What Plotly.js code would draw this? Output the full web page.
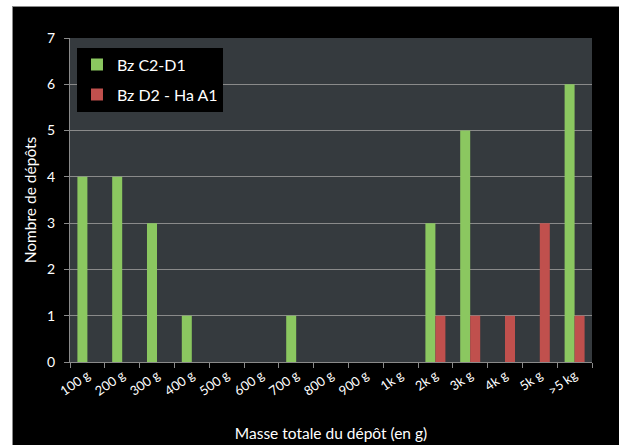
<!DOCTYPE html>
<html>
<head>
<meta charset="utf-8">
<script src="https://cdn.plot.ly/plotly-3.0.1.min.js"></script>
<style>
  html, body { margin: 0; padding: 0; background: #ffffff; width: 619px; height: 445px; overflow: hidden; }
  #chart { position: absolute; left: 12px; top: 6px; width: 606px; height: 438px; border-top: 1px solid #8a8a8a; border-left: 1px solid #8a8a8a; background: #000; }
</style>
</head>
<body>
<div id="chart"></div>
<script>
const categories = ["100 g", "200 g", "300 g", "400 g", "500 g", "600 g", "700 g", "800 g", "900 g", "1k g", "2k g", "3k g", "4k g", "5k g", ">5 kg"];
const seriesBzC2D1 = [4, 4, 3, 1, 0, 0, 1, 0, 0, 0, 3, 5, 0, 0, 6];
const seriesBzD2HaA1 = [0, 0, 0, 0, 0, 0, 0, 0, 0, 0, 1, 1, 1, 3, 1];
const seriesNames = ["Bz C2-D1", "Bz D2 - Ha A1"];
const yTickValues = [0, 1, 2, 3, 4, 5, 6, 7];

const font = "Lato, 'Open Sans', sans-serif";

const data = [
  { type: "bar", name: seriesNames[0], x: categories, y: seriesBzC2D1, marker: { color: "#8BC760" }, legendgroup: "a" },
  { type: "bar", name: seriesNames[1], x: categories, y: seriesBzD2HaA1, marker: { color: "#C0504D" }, legendgroup: "b" }
];

const layout = {
  width: 606, height: 438,
  margin: { l: 57, r: 27, t: 31, b: 83 },
  paper_bgcolor: "#000000",
  plot_bgcolor: "#353A3E",
  barmode: "group",
  bargap: 0.425,
  bargroupgap: 0,
  font: { family: font, color: "#ffffff", size: 13 },
  showlegend: true,
  legend: {
    x: 0.0134, y: 0.97, xanchor: "left", yanchor: "top",
    bgcolor: "#000000", borderwidth: 0,
    font: { family: font, size: 16, color: "#ffffff" },
    traceorder: "grouped", tracegroupgap: 6
  },
  xaxis: {
    type: "category",
    tickangle: -35,
    tickfont: { size: 13, color: "#ffffff" },
    showline: true, linecolor: "#8a8a8a", linewidth: 1,
    ticks: "outside", tickson: "boundaries", ticklen: 5, tickcolor: "#8a8a8a",
    showgrid: false,
    title: { text: "Masse totale du dépôt (en g)", font: { size: 15.5, color: "#ffffff" }, standoff: 30 },
    automargin: false
  },
  yaxis: {
    range: [0, 7],
    tickvals: yTickValues,
    tickfont: { size: 14, color: "#ffffff" },
    ticklabelstandoff: 6,
    showline: true, linecolor: "#8a8a8a", linewidth: 1,
    ticks: "outside", ticklen: 5, tickcolor: "#8a8a8a",
    showgrid: true, gridcolor: "#8a8a8a", gridwidth: 1,
    zeroline: false,
    title: { text: "Nombre de dépôts", font: { size: 15.5, color: "#ffffff" }, standoff: 6 },
    automargin: false
  }
};

Plotly.newPlot("chart", data, layout, { displayModeBar: false, staticPlot: true });
</script>
</body>
</html>
